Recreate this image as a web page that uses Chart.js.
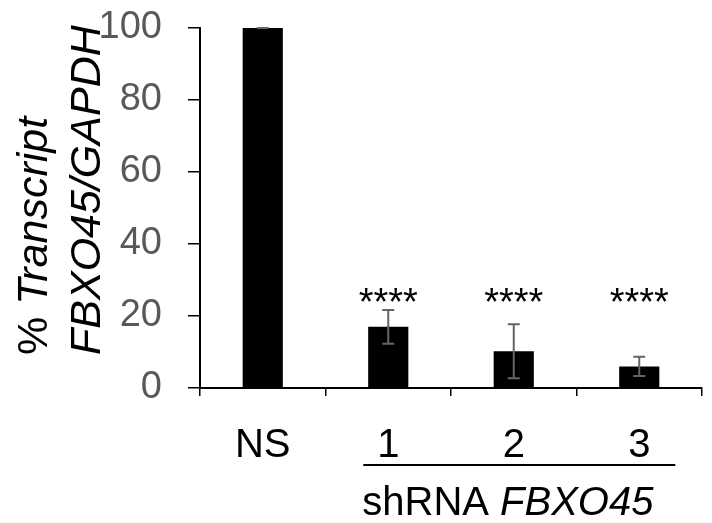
<!DOCTYPE html>
<html>
<head>
<meta charset="utf-8">
<script src="https://cdn.jsdelivr.net/npm/chart.js@4.4.1/dist/chart.umd.min.js"></script>
<style>
  html, body { margin: 0; padding: 0; background: #fff; }
  #wrap { width: 712px; height: 523px; }
</style>
</head>
<body>
<div id="wrap"><canvas id="c" width="712" height="523"></canvas></div>
<script>
// Relative transcript levels (% of NS control)
const categories = ['NS', '1', '2', '3'];
const transcript = [100, 17, 10.2, 6];
const sem = [0, 4.7, 7.5, 2.7];
const significance = ['', '****', '****', '****'];
const yTicks = [0, 20, 40, 60, 80, 100];
const starLevel = 26;

const FONT = '"Liberation Sans", Arial, Helvetica, sans-serif';

// Error bars, significance stars, y title and the grouped x label
const decorations = {
  id: 'decorations',
  afterDatasetsDraw(chart) {
    const ctx = chart.ctx;
    const x = chart.scales.x, y = chart.scales.y;
    const meta = chart.getDatasetMeta(0);

    ctx.save();
    // error bars
    ctx.strokeStyle = '#666666';
    ctx.lineWidth = 2;
    meta.data.forEach((bar, i) => {
      const cx = bar.x;
      const top = y.getPixelForValue(transcript[i] + sem[i]);
      const bot = y.getPixelForValue(transcript[i] - sem[i]);
      ctx.beginPath();
      ctx.moveTo(cx, top); ctx.lineTo(cx, bot);
      ctx.moveTo(cx - 6, top); ctx.lineTo(cx + 6, top);
      ctx.moveTo(cx - 6, bot); ctx.lineTo(cx + 6, bot);
      ctx.stroke();
    });

    // significance stars
    ctx.fillStyle = '#000';
    ctx.font = '38px ' + FONT;
    ctx.textAlign = 'center';
    ctx.textBaseline = 'alphabetic';
    meta.data.forEach((bar, i) => {
      if (!significance[i]) return;
      ctx.fillText(significance[i], bar.x, y.getPixelForValue(starLevel) + 21);
    });

    // y axis title (two lines, rotated)
    ctx.save();
    ctx.translate(0, 355);
    ctx.rotate(-Math.PI / 2);
    ctx.textAlign = 'left';
    ctx.textBaseline = 'alphabetic';
    ctx.font = '43px ' + FONT;
    const pct = '% ';
    ctx.fillText(pct, 0, 47);
    const w = ctx.measureText(pct).width;
    ctx.font = 'italic 43px ' + FONT;
    ctx.fillText('Transcript', w, 47);
    ctx.fillText('FBXO45/GAPDH', 0, 100);
    ctx.restore();

    // group line and label under the shRNA categories
    const lx0 = x.getPixelForValue(1) - 25;
    const lx1 = x.getPixelForValue(3) + 36;
    ctx.strokeStyle = '#000';
    ctx.lineWidth = 2;
    ctx.beginPath();
    ctx.moveTo(lx0, 465); ctx.lineTo(lx1, 465);
    ctx.stroke();

    ctx.textAlign = 'left';
    ctx.font = '40px ' + FONT;
    const pre = 'shRNA ';
    ctx.fillText(pre, lx0 - 1, 515);
    const pw = ctx.measureText(pre).width;
    ctx.font = 'italic 40px ' + FONT;
    ctx.fillText('FBXO45', lx0 - 1 + pw, 515);
    ctx.restore();
  }
};

new Chart(document.getElementById('c'), {
  type: 'bar',
  data: {
    labels: categories,
    datasets: [{
      data: transcript,
      backgroundColor: '#000000',
      borderWidth: 0,
      barPercentage: 0.32,
      categoryPercentage: 1.0
    }]
  },
  options: {
    responsive: false,
    animation: false,
    devicePixelRatio: 1,
    layout: { autoPadding: false, padding: { left: 0, right: 10, top: 28, bottom: 0 } },
    plugins: { legend: { display: false }, tooltip: { enabled: false } },
    scales: {
      x: {
        offset: true,
        grid: { drawOnChartArea: false, tickLength: 8, color: '#000', lineWidth: 1.5, offset: true },
        border: { color: '#000', width: 2 },
        ticks: { color: '#000', font: { family: FONT, size: 40 }, padding: 26, maxRotation: 0 },
        afterFit(scale) {
          scale.height = 135;
          scale.paddingLeft = 0; scale.paddingRight = 0;
        }
      },
      y: {
        min: 0, max: 100,
        afterBuildTicks(scale) { scale.ticks = yTicks.map(v => ({ value: v })); },
        grid: { drawOnChartArea: false, tickLength: 12, color: '#000', lineWidth: 1.5 },
        border: { color: '#000', width: 2 },
        ticks: { color: '#595959', font: { family: FONT, size: 38 }, padding: 26 },
        afterFit(scale) {
          scale.width = 200;
          scale.paddingTop = 0; scale.paddingBottom = 0;
        }
      }
    }
  },
  plugins: [decorations]
});
</script>
</body>
</html>
